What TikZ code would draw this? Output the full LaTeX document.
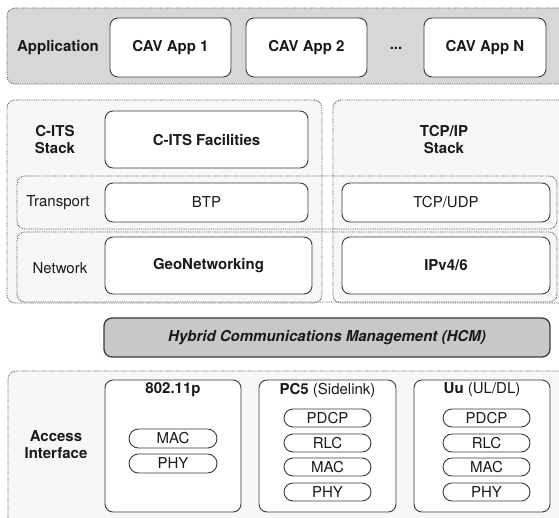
\documentclass[tikz,border=0pt]{standalone}
\usepackage{fontspec}
\setmainfont{TeX Gyre Heros}
\usetikzlibrary{shapes.misc}
\definecolor{appgray}{HTML}{D7D7D7}
\definecolor{hcmgray}{HTML}{C8C8C8}
\definecolor{lightbg}{HTML}{F7F7F7}
\definecolor{edge}{HTML}{3A3A3A}
\definecolor{dotc}{HTML}{5A5A5A}
\definecolor{txt}{HTML}{1A1A1A}
\begin{document}
\begin{tikzpicture}[x=1pt,y=-1pt,
  font=\fontsize{15}{17}\selectfont, text=txt,
  span/.style n args={4}{at={({(#1+#3)/2},{(#2+#4)/2})},minimum width={(#3-#1)*1pt},minimum height={(#4-#2)*1pt}},
  dotbox/.style={draw=dotc,line width=0.8pt,dash pattern=on 0.9pt off 0.9pt,rounded corners=8pt,inner sep=0pt},
  wbox/.style={draw=edge,fill=white,line width=0.9pt,rounded corners=8pt,inner sep=0pt},
  pill/.style={draw=edge,fill=white,line width=0.9pt,rounded rectangle,inner sep=0pt},
  lbl/.style={inner sep=0pt,align=center}]
\useasboundingbox (0,0) rectangle (559,517);
\begin{scope}
\clip (0,0) rectangle (559,517);
% Application layer
\node[dotbox,fill=appgray,span={7}{8}{572}{84}] (appbar) {};
\node[lbl] (applbl) at (58,48) {\textbf{Application}};
\node[wbox,span={110}{18}{231}{77}] (app1) {\textbf{CAV App 1}};
\node[wbox,span={246}{18}{367}{77}] (app2) {\textbf{CAV App 2}};
\node[lbl] (dots) at (396,48) {\textbf{...}};
\node[wbox,span={424}{18}{546}{77}] (appn) {\textbf{CAV App N}};
% Stacks
\node[dotbox,fill=lightbg,span={7}{100}{322}{303}] (cits) {};
\node[dotbox,fill=lightbg,span={333}{100}{572}{303}] (tcpip) {};
\node[dotbox,span={17}{176}{557}{229}] (transrow) {};
\node[dotbox,span={17}{232}{557}{302}] (netrow) {};
\node[lbl] (citslbl) at (55,140) {\textbf{C-ITS}\\\textbf{Stack}};
\node[lbl] (tcplbl) at (444,140) {\textbf{TCP/IP}\\\textbf{Stack}};
\node[lbl] (translbl) at (58,203) {Transport};
\node[lbl] (netlbl) at (60,268) {Network};
\node[wbox,span={105}{111}{308}{168}] (facil) {\textbf{C-ITS Facilities}};
\node[wbox,span={105}{183}{308}{222}] (btp) {BTP};
\node[wbox,span={105}{237}{312}{294}] (geonet) {\textbf{GeoNetworking}};
\node[wbox,span={342}{183}{550}{222}] (tcpudp) {TCP/UDP};
\node[wbox,span={342}{237}{550}{294}] (ipv) {\textbf{IPv4/6}};
% HCM
\node[draw=edge,fill=hcmgray,line width=1.3pt,rounded corners=8pt,inner sep=0pt,span={104}{318}{550}{357}] (hcm) {\textbf{\textit{Hybrid Communications Management (HCM)}}};
% Access interface
\node[dotbox,fill=lightbg,span={8}{371}{572}{530}] (access) {};
\node[lbl] (acclbl) at (56,445) {\textbf{Access}\\\textbf{Interface}};
\node[wbox,span={105}{380}{241}{512}] (wifi) {};
\node[lbl] (wifit) at (173,390) {\textbf{802.11p}};
\node[pill,span={129}{429}{217}{448}] (wmac) {MAC};
\node[pill,span={129}{454}{217}{473}] (wphy) {PHY};
\node[wbox,span={259}{380}{396}{512}] (pc5) {};
\node[lbl] (pc5t) at (327.5,390) {\textbf{PC5} (Sidelink)};
\node[pill,span={284}{409}{371}{427}] (ppdcp) {PDCP};
\node[pill,span={284}{434}{371}{452}] (prlc) {RLC};
\node[pill,span={284}{458}{371}{476}] (pmac) {MAC};
\node[pill,span={284}{483}{371}{501}] (pphy) {PHY};
\node[wbox,span={414}{380}{550}{512}] (uu) {};
\node[lbl] (uut) at (482,390) {\textbf{Uu} (UL/DL)};
\node[pill,span={443}{409}{530}{427}] (updcp) {PDCP};
\node[pill,span={443}{434}{530}{452}] (urlc) {RLC};
\node[pill,span={443}{458}{530}{476}] (umac) {MAC};
\node[pill,span={443}{483}{530}{501}] (uphy) {PHY};
\end{scope}
\end{tikzpicture}
\end{document}
